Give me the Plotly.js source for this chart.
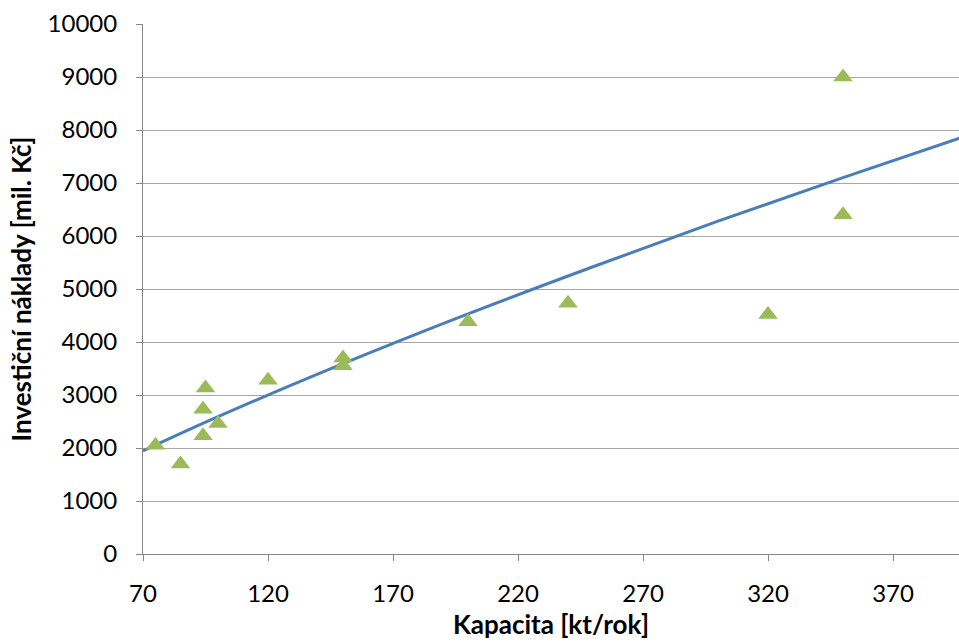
<!DOCTYPE html>
<html>
<head>
<meta charset="utf-8">
<script src="https://cdn.plot.ly/plotly-3.0.1.min.js"></script>
<style>html,body{margin:0;padding:0;background:#fff;}#chart{width:959px;height:644px;}</style>
</head>
<body>
<div id="chart"></div>
<script>
// Data points (capacity kt/rok, investment mil. Kč)
const capacity = [75, 85, 94, 94, 95, 100, 120, 150, 150, 200, 240, 320, 350, 350];
const investment = [2050, 1700, 2730, 2230, 3130, 2460, 3280, 3700, 3550, 4380, 4730, 4520, 9000, 6400];
// Trend line
const trendX = [70, 100, 150, 200, 250, 300, 350, 400];
const trendY = [1945, 2590, 3590, 4530, 5420, 6280, 7100, 7900];
const xTicks = [70, 120, 170, 220, 270, 320, 370];
const yTicks = [0, 1000, 2000, 3000, 4000, 5000, 6000, 7000, 8000, 9000, 10000];

const traces = [
  {x: trendX, y: trendY, mode: 'lines', type: 'scatter', line: {color: '#4A7EBB', width: 3, shape: 'spline'}, hoverinfo: 'skip'},
  {x: capacity, y: investment, mode: 'markers', type: 'scatter', marker: {symbol: 'triangle-up', size: 17, color: '#9BBB59'}}
];
const font = "Lato, 'Open Sans', sans-serif";
const layout = {
  width: 959, height: 644,
  margin: {l: 143, r: 0, t: 24, b: 90},
  showlegend: false,
  paper_bgcolor: '#fff', plot_bgcolor: '#fff',
  xaxis: {
    range: [70, 396.4], tickvals: xTicks, ticktext: xTicks.map(String),
    showgrid: false, zeroline: false, showline: true, linecolor: '#868686', linewidth: 1,
    ticks: 'outside', ticklen: 6, tickcolor: '#868686',
    tickfont: {family: font, size: 24, color: '#000'}, ticklabelstandoff: 12,
    title: {text: 'Kapacita [kt/rok]', font: {family: font, size: 26, color: '#000', weight: 'bold'}, standoff: 10}
  },
  yaxis: {
    range: [0, 10000], tickvals: yTicks, ticktext: yTicks.map(String),
    showgrid: true, gridcolor: '#a6a6a6', gridwidth: 1, zeroline: false,
    showline: true, linecolor: '#868686', linewidth: 1,
    ticks: 'outside', ticklen: 6, tickcolor: '#868686',
    tickfont: {family: font, size: 24, color: '#000'}, ticklabelstandoff: 14,
    title: {text: 'Investiční náklady [mil. Kč]', font: {family: font, size: 26, color: '#000', weight: 'bold'}, standoff: 8}
  }
};
Plotly.newPlot('chart', traces, layout, {displayModeBar: false, staticPlot: true});
</script>
</body>
</html>
